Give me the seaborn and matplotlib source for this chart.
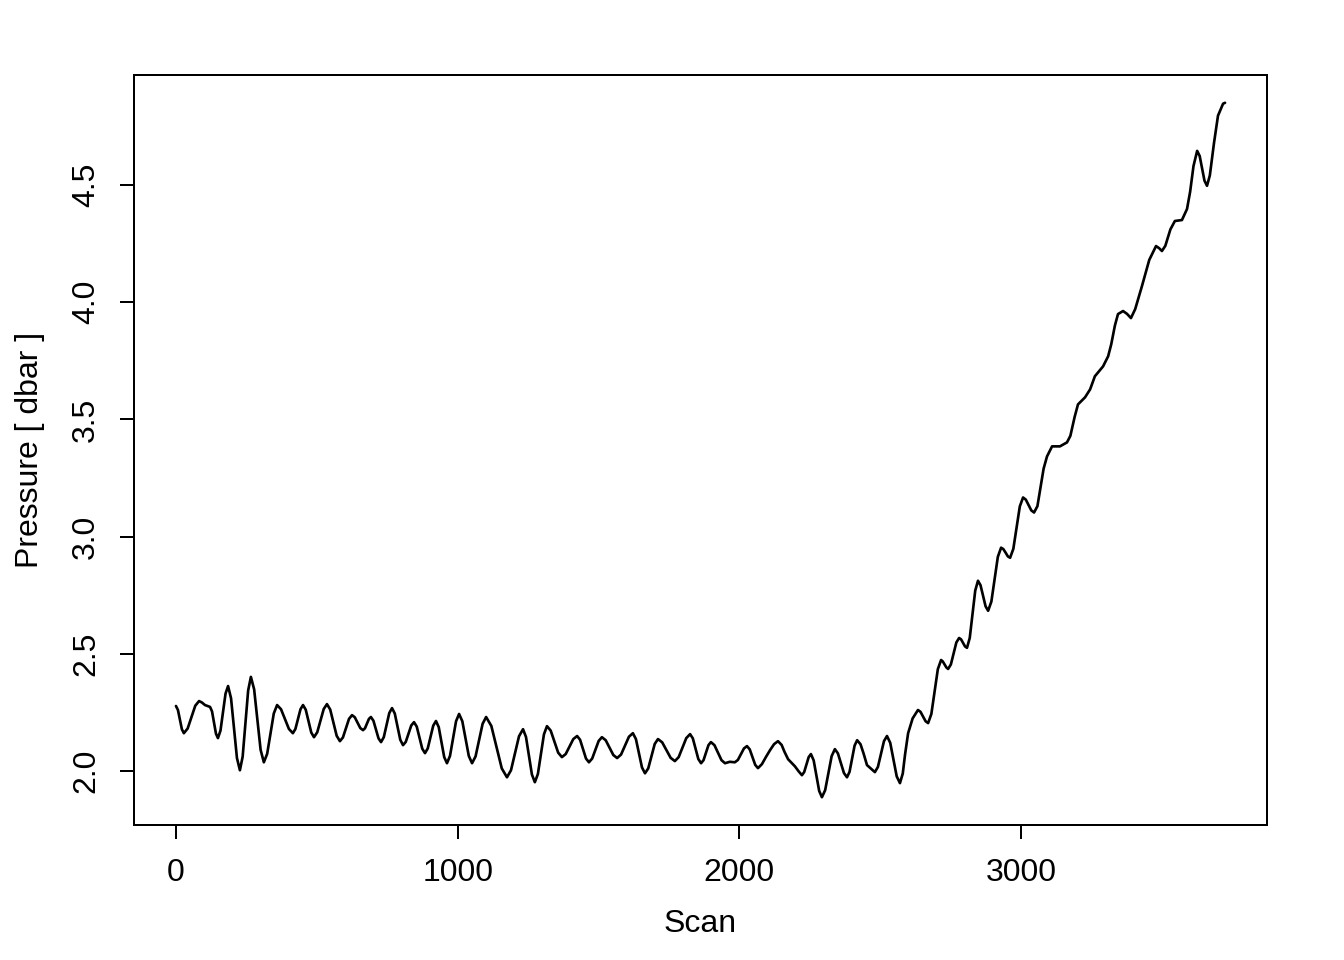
import matplotlib
matplotlib.use("Agg")
import matplotlib.pyplot as plt
import seaborn as sns
import pandas as pd

scan = [0, 7, 14, 21, 28, 41.5, 55, 68.5, 82, 92, 103, 121, 128, 135, 142, 149, 158, 167, 176,
        185, 195.5, 206, 216.5, 227, 236.75, 246.5, 256.25, 266, 277.5, 289, 300.5, 312, 323.75,
        335.5, 347.25, 359, 373, 387, 401, 415, 424, 433, 442, 451, 460.75, 470.5, 480.25, 490,
        501.5, 513, 524.5, 536, 547.5, 559, 570.5, 582, 592.75, 603.5, 614.25, 625, 634.75, 644.5,
        654.25, 664, 671, 678, 685, 692, 701, 710, 719, 728, 737.75, 747.5, 757.25, 767, 776.75,
        786.5, 796.25, 806, 815.75, 825.5, 835.25, 845, 854.75, 864.5, 874.25, 884, 893.75, 903.5,
        913.25, 923, 932.75, 942.5, 952.25, 962, 972.75, 983.5, 994.25, 1005, 1016.5, 1028, 1039.5,
        1051, 1063.5, 1076, 1088.5, 1101, 1119.5, 1138, 1156.5, 1175, 1189.25, 1203.5, 1217.75,
        1232, 1242.5, 1253, 1263.5, 1274, 1284.75, 1295.5, 1306.25, 1317, 1330.25, 1343.5, 1356.75,
        1370, 1383.5, 1397, 1410.5, 1424, 1434.5, 1445, 1455.5, 1466, 1477.5, 1489, 1500.5, 1512,
        1525.5, 1539, 1552.5, 1566, 1580, 1594, 1608, 1622, 1632.75, 1643.5, 1654.25, 1665, 1676.5,
        1688, 1699.5, 1711, 1726, 1741, 1756, 1771, 1784.5, 1798, 1811.5, 1825, 1834.75, 1844.5,
        1854.25, 1864, 1872.75, 1881.5, 1890.25, 1899, 1911.5, 1924, 1936.5, 1949, 1966, 1984,
        1994.75, 2005.5, 2016.25, 2027, 2036.75, 2046.5, 2056.25, 2066, 2080, 2095, 2109, 2123,
        2137, 2150, 2160, 2173, 2197, 2210, 2222, 2230, 2238, 2246, 2254, 2263.75, 2273.5, 2283.25,
        2293, 2304.5, 2316, 2327.5, 2339, 2349.75, 2360.5, 2371.25, 2382, 2391, 2400, 2409, 2418,
        2430, 2441, 2453, 2481, 2491.75, 2502.5, 2513.25, 2524, 2535.5, 2547, 2558.5, 2570, 2580,
        2588, 2599, 2615, 2634, 2643, 2652, 2661, 2670, 2681.5, 2693, 2704.5, 2716, 2722, 2728.5,
        2735, 2741, 2750.75, 2760.5, 2770.25, 2780, 2787, 2794, 2801, 2808, 2817.75, 2827.5,
        2837.25, 2847, 2856, 2865, 2874, 2883, 2894.5, 2906, 2917.5, 2929, 2937, 2945, 2953, 2961,
        2972.5, 2984, 2995.5, 3007, 3016.75, 3026.5, 3036.25, 3046, 3058, 3069, 3080, 3092, 3110,
        3138, 3163, 3175, 3190, 3202, 3227, 3245, 3262, 3291, 3309, 3320, 3333, 3344, 3362, 3376,
        3390, 3405, 3429, 3455, 3479, 3490, 3500, 3512, 3530, 3546, 3571, 3589, 3600, 3612, 3625,
        3634, 3642.5, 3651, 3660, 3670, 3685, 3699, 3717, 3724]

pressure = [2.278, 2.261, 2.220, 2.179, 2.162, 2.182, 2.231, 2.279, 2.299, 2.293, 2.282, 2.274,
            2.255, 2.208, 2.160, 2.141, 2.173, 2.252, 2.331, 2.363, 2.311, 2.184, 2.056, 2.004,
            2.062, 2.203, 2.344, 2.402, 2.349, 2.220, 2.091, 2.038, 2.074, 2.160, 2.246, 2.282,
            2.264, 2.222, 2.180, 2.162, 2.180, 2.222, 2.264, 2.282, 2.262, 2.214, 2.165, 2.145,
            2.166, 2.216, 2.265, 2.286, 2.263, 2.207, 2.151, 2.128, 2.144, 2.184, 2.223, 2.239,
            2.230, 2.207, 2.184, 2.175, 2.183, 2.203, 2.223, 2.231, 2.215, 2.178, 2.140, 2.124,
            2.145, 2.197, 2.248, 2.269, 2.246, 2.190, 2.134, 2.111, 2.125, 2.160, 2.195, 2.209,
            2.190, 2.143, 2.096, 2.077, 2.097, 2.146, 2.194, 2.214, 2.188, 2.124, 2.060, 2.034,
            2.065, 2.139, 2.213, 2.244, 2.213, 2.139, 2.065, 2.034, 2.063, 2.133, 2.202, 2.231,
            2.193, 2.103, 2.012, 1.974, 2.004, 2.077, 2.149, 2.179, 2.146, 2.066, 1.986, 1.953,
            1.988, 2.073, 2.157, 2.192, 2.173, 2.126, 2.079, 2.060, 2.073, 2.105, 2.137, 2.150,
            2.134, 2.094, 2.054, 2.038, 2.054, 2.092, 2.129, 2.145, 2.132, 2.101, 2.069, 2.056,
            2.071, 2.109, 2.147, 2.162, 2.137, 2.077, 2.016, 1.991, 2.012, 2.064, 2.116, 2.137,
            2.123, 2.090, 2.057, 2.043, 2.060, 2.101, 2.141, 2.158, 2.140, 2.096, 2.052, 2.034,
            2.047, 2.079, 2.111, 2.124, 2.111, 2.079, 2.047, 2.034, 2.040, 2.038, 2.048, 2.073,
            2.097, 2.107, 2.093, 2.060, 2.027, 2.013, 2.030, 2.062, 2.090, 2.115, 2.128, 2.112,
            2.083, 2.051, 2.021, 2.000, 1.983, 1.996, 2.028, 2.060, 2.073, 2.046, 1.981, 1.916,
            1.889, 1.919, 1.992, 2.064, 2.094, 2.076, 2.034, 1.992, 1.974, 1.997, 2.053, 2.109,
            2.132, 2.115, 2.075, 2.026, 1.996, 2.018, 2.073, 2.128, 2.150, 2.121, 2.050, 1.978,
            1.949, 1.990, 2.070, 2.162, 2.225, 2.261, 2.253, 2.233, 2.213, 2.205, 2.244, 2.340,
            2.435, 2.474, 2.468, 2.455, 2.442, 2.436, 2.455, 2.502, 2.549, 2.568, 2.562, 2.547,
            2.532, 2.526, 2.568, 2.669, 2.770, 2.812, 2.793, 2.748, 2.703, 2.684, 2.723, 2.819,
            2.914, 2.953, 2.947, 2.932, 2.916, 2.910, 2.948, 3.039, 3.129, 3.167, 3.158, 3.135,
            3.112, 3.103, 3.130, 3.210, 3.290, 3.342, 3.385, 3.385, 3.402, 3.430, 3.510, 3.564,
            3.594, 3.628, 3.684, 3.726, 3.769, 3.820, 3.900, 3.949, 3.962, 3.950, 3.932, 3.970,
            4.068, 4.180, 4.239, 4.230, 4.218, 4.240, 4.310, 4.346, 4.350, 4.397, 4.470, 4.580,
            4.645, 4.623, 4.570, 4.518, 4.496, 4.540, 4.680, 4.795, 4.846, 4.850]

x_ticks = [0, 1000, 2000, 3000]
y_ticks = [2.0, 2.5, 3.0, 3.5, 4.0, 4.5]
y_tick_labels = ["2.0", "2.5", "3.0", "3.5", "4.0", "4.5"]
x_label = "Scan"
y_label = "Pressure [ dbar ]"

sns.set_style("ticks")
plt.rcParams["font.family"] = ["Liberation Sans", "DejaVu Sans"]
plt.rcParams["font.size"] = 12
plt.rcParams["text.color"] = "black"
plt.rcParams["axes.labelcolor"] = "black"
plt.rcParams["xtick.color"] = "black"
plt.rcParams["ytick.color"] = "black"
plt.rcParams["xtick.labelcolor"] = "black"
plt.rcParams["ytick.labelcolor"] = "black"

df = pd.DataFrame({"scan": scan, "pressure": pressure})

fig = plt.figure(figsize=(7, 5), dpi=192)
ax = fig.add_axes([134 / 1344, 1 - 825 / 960, (1267 - 134) / 1344, (825 - 75) / 960])
sns.lineplot(data=df, x="scan", y="pressure", color="black", linewidth=1.0,
             sort=False, estimator=None, ax=ax)
ax.lines[0].set_solid_joinstyle("round")

xr = max(scan) - min(scan)
yr = max(pressure) - min(pressure)
ax.set_xlim(min(scan) - 0.04 * xr, max(scan) + 0.04 * xr)
ax.set_ylim(min(pressure) - 0.04 * yr, max(pressure) + 0.04 * yr)

ax.set_xticks(x_ticks)
ax.set_xticklabels([str(t) for t in x_ticks])
ax.set_yticks(y_ticks)
ax.set_yticklabels(y_tick_labels, rotation=90, va="center")

for s in ax.spines.values():
    s.set_visible(True)
    s.set_linewidth(0.75)
    s.set_color("black")

ax.tick_params(axis="both", direction="out", length=5.3, width=0.75, colors="black",
               labelsize=12, pad=7)
ax.set_xlabel(x_label, fontsize=12, labelpad=8, color="black")
ax.set_ylabel(y_label, fontsize=12, labelpad=10, color="black")
ax.grid(False)

fig.savefig("out.png", dpi=192, facecolor="white")
